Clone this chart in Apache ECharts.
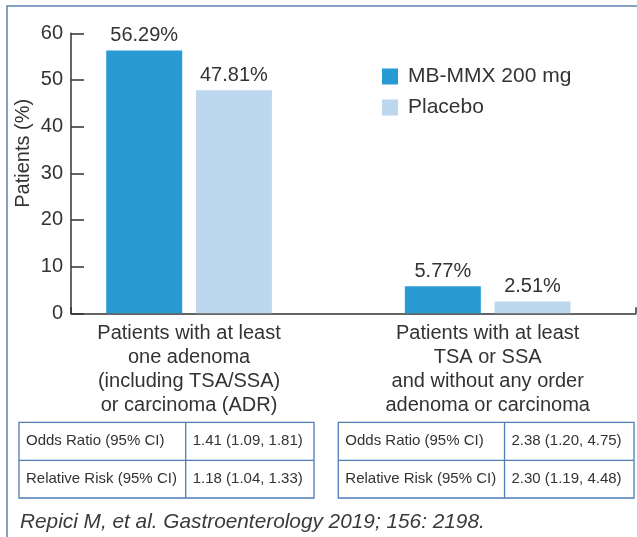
<!DOCTYPE html>
<html>
<head>
<meta charset="utf-8">
<script src="https://cdn.jsdelivr.net/npm/echarts@6/dist/echarts.min.js"></script>
<style>
  html, body { margin: 0; padding: 0; background: #ffffff; }
  #chart { width: 637px; height: 537px; }
</style>
</head>
<body>
<div id="chart"></div>
<script>
// ---- data ----
var categories = [
  'Patients with at least\none adenoma\n(including TSA/SSA)\nor carcinoma (ADR)',
  'Patients with at least\nTSA or SSA\nand without any order\nadenoma or carcinoma'
];
var seriesNames = ['MB-MMX 200 mg', 'Placebo'];
var mbValues = [56.29, 5.77];
var placeboValues = [47.81, 2.51];
var yTicks = [0, 10, 20, 30, 40, 50, 60];
var tableRowLabels = ['Odds Ratio (95% CI)', 'Relative Risk (95% CI)'];
var table1Values = ['1.41 (1.09, 1.81)', '1.18 (1.04, 1.33)'];
var table2Values = ['2.38 (1.20, 4.75)', '2.30 (1.19, 4.48)'];
var citation = 'Repici M, et al. Gastroenterology 2019; 156: 2198.';

// ---- styling ----
var FONT = '"Liberation Sans", Arial, Helvetica, sans-serif';
var TXT = '#333333';
var C_MB = '#299bd4';
var C_PL = '#bdd7ee';
var TABLE_LINE = '#4f7db5';
var FRAME = '#5f84b0';

var chart = echarts.init(document.getElementById('chart'), null, { renderer: 'canvas' });

function buildTable(x0, xSplit, x1, yTop, yMid, yBot, values) {
  var children = [];
  children.push({ type: 'rect', shape: { x: x0, y: yTop, width: x1 - x0, height: yBot - yTop },
    style: { fill: 'none', stroke: TABLE_LINE, lineWidth: 1.3 } });
  children.push({ type: 'line', shape: { x1: x0, y1: yMid, x2: x1, y2: yMid },
    style: { stroke: TABLE_LINE, lineWidth: 1.3 } });
  children.push({ type: 'line', shape: { x1: xSplit, y1: yTop, x2: xSplit, y2: yBot },
    style: { stroke: TABLE_LINE, lineWidth: 1.3 } });
  var rowsY = [(yTop + yMid) / 2, (yMid + yBot) / 2];
  for (var i = 0; i < tableRowLabels.length; i++) {
    children.push({ type: 'text', x: x0 + 7, y: rowsY[i],
      style: { text: tableRowLabels[i], font: '15px ' + FONT, fill: TXT, textVerticalAlign: 'middle', textAlign: 'left' } });
    children.push({ type: 'text', x: xSplit + 7, y: rowsY[i],
      style: { text: values[i], font: '15px ' + FONT, fill: TXT, textVerticalAlign: 'middle', textAlign: 'left' } });
  }
  return children;
}

var graphics = [];
graphics.push({ type: 'rect', shape: { x: 7, y: 6, width: 660, height: 560 },
  style: { fill: 'none', stroke: FRAME, lineWidth: 1.5 }, z: 0 });
graphics = graphics.concat(buildTable(19, 185.7, 314, 422.3, 460.3, 498, table1Values));
graphics = graphics.concat(buildTable(338.3, 504.5, 634, 422.3, 460.3, 498, table2Values));
graphics.push({ type: 'text', x: 20, y: 522,
  style: { text: citation, font: 'italic 20.8px ' + FONT, fill: '#3a3a3a', textVerticalAlign: 'middle', textAlign: 'left' } });

var labelOpt = {
  show: true,
  position: 'top',
  distance: 5,
  fontSize: 20,
  fontFamily: FONT,
  color: TXT,
  formatter: function (p) { return p.value.toFixed(2) + '%'; }
};

var option = {
  backgroundColor: '#ffffff',
  animation: false,
  textStyle: { fontFamily: FONT },
  grid: [
    { left: 71, top: 33.3, width: 565, height: 280, containLabel: false },
    { left: 39.75, top: 33.3, width: 603, height: 280, containLabel: false }
  ],
  legend: {
    data: seriesNames,
    orient: 'vertical',
    left: 382,
    top: 66,
    padding: 0,
    itemWidth: 16,
    itemHeight: 16,
    itemGap: 10,
    icon: 'rect',
    textStyle: { fontSize: 21, color: TXT, fontFamily: FONT, padding: [0, 0, 0, 5], lineHeight: 16 }
  },
  xAxis: [
    {
      gridIndex: 0, type: 'value', min: 0, max: 1, interval: 1,
      axisLine: { show: true, lineStyle: { color: '#333', width: 1.5 } },
      axisTick: { show: true, inside: true, length: 6, lineStyle: { color: '#333', width: 1.5 } },
      axisLabel: { show: false },
      splitLine: { show: false }
    },
    {
      gridIndex: 1, type: 'category', data: categories,
      axisLine: { show: false }, axisTick: { show: false }, splitLine: { show: false },
      axisLabel: { show: true, fontSize: 20, lineHeight: 24, color: TXT, fontFamily: FONT, margin: 8, interval: 0 }
    }
  ],
  yAxis: [
    {
      gridIndex: 0, type: 'value', min: yTicks[0], max: yTicks[yTicks.length - 1], interval: 10,
      name: 'Patients (%)', nameLocation: 'middle', nameGap: 38, nameMoveOverlap: false,
      nameTextStyle: { fontSize: 20, color: TXT, fontFamily: FONT, padding: [0, 0, 0, 40] },
      axisLine: { show: true, lineStyle: { color: '#333', width: 1.5 } },
      axisTick: { show: true, inside: true, length: 13, lineStyle: { color: '#333', width: 1.5 } },
      axisLabel: { show: true, fontSize: 20, color: TXT, fontFamily: FONT, margin: 8 },
      splitLine: { show: false }
    },
    {
      gridIndex: 1, type: 'value', min: yTicks[0], max: yTicks[yTicks.length - 1], interval: 10,
      show: false
    }
  ],
  series: [
    {
      name: seriesNames[0], type: 'bar', xAxisIndex: 1, yAxisIndex: 1,
      data: mbValues, barWidth: 76, barGap: '18%',
      itemStyle: { color: C_MB }, label: labelOpt
    },
    {
      name: seriesNames[1], type: 'bar', xAxisIndex: 1, yAxisIndex: 1,
      data: placeboValues, barWidth: 76, barGap: '18%',
      itemStyle: { color: C_PL }, label: labelOpt
    }
  ],
  graphic: graphics
};

chart.setOption(option);
</script>
</body>
</html>
